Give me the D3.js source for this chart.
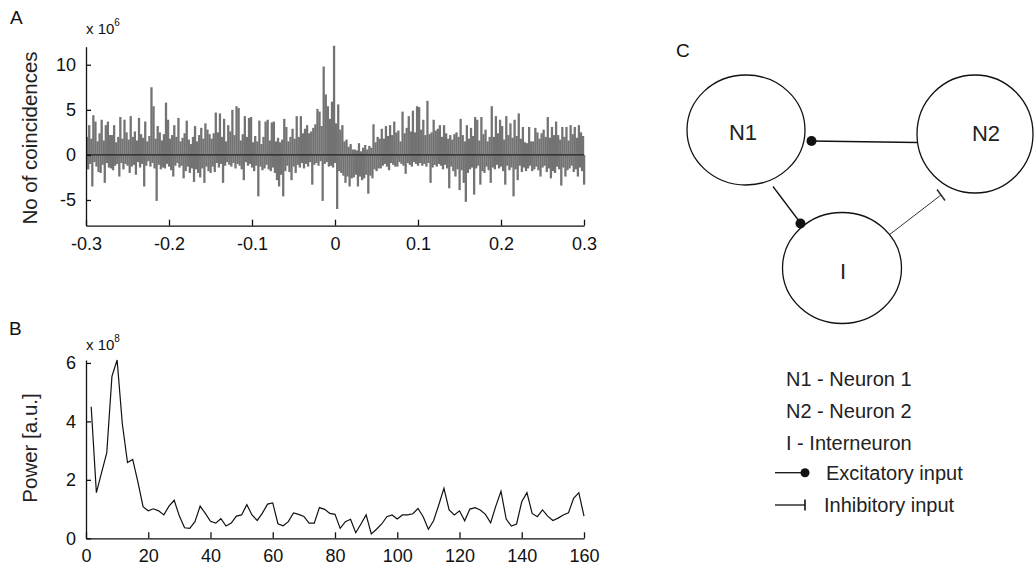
<!DOCTYPE html>
<html>
  <head>
    <meta charset="utf-8">
    <script src="https://d3js.org/d3.v7.min.js"></script>
    <style type="text/css">
    body { margin: 0; background: #fff; }
    svg text { font-family: "Liberation Sans", Arial, sans-serif; fill: #111; }
    .axis path, .axis line { stroke: #111; stroke-width: 1.3; }
    .axis text { font-size: 18px; fill: #111; }
    </style>
  </head>
  <body>
    <div id="chart"></div>
    <script>
    // panel A: cross-correlogram, 1.25 ms bins from -0.3 to 0.3 s (x 10^6)
    var binWidth = 0.00125;
    var coincidences = [
      2.0,-1.6, 3.3,-1.0, 1.8,-3.5, 4.4,-0.8, 3.7,-1.3, 1.5,-1.9, 2.4,-2.0, 3.9,-1.1, 1.6,-3.1, 3.3,-0.9,
      3.7,-1.4, 2.2,-1.5, 2.2,-1.7, 3.3,-1.2, 1.4,-1.0, 2.0,-2.4, 4.2,-0.9, 1.8,-1.6, 3.9,-1.0, 2.5,-1.2,
      1.7,-2.0, 4.3,-1.3, 2.0,-1.1, 2.6,-2.2, 1.6,-0.8, 4.1,-1.4, 2.3,-1.0, 1.9,-3.5, 3.7,-1.2, 1.5,-0.7,
      2.1,-1.3, 7.5,-0.9, 5.4,-1.5, 1.8,-5.1, 3.2,-1.1, 2.5,-1.6, 1.6,-1.4, 2.3,-1.5, 5.8,-1.0, 3.9,-1.3,
      1.8,-1.7, 2.2,-2.4, 3.3,-1.2, 2.0,-0.9, 4.1,-1.4, 1.5,-1.2, 1.9,-2.6, 2.4,-1.8, 3.8,-1.3, 1.7,-2.0,
      1.2,-1.5, 2.0,-3.0, 3.2,-1.6, 1.5,-2.0, 2.2,-2.5, 3.0,-1.5, 1.8,-3.1, 3.5,-1.3, 2.8,-1.8, 2.3,-2.0,
      1.8,-1.3, 2.4,-1.9, 4.7,-0.9, 2.5,-1.4, 4.6,-1.0, 2.0,-3.1, 4.0,-1.2, 1.5,-0.8, 3.3,-1.1, 2.6,-1.3,
      5.0,-0.9, 2.2,-1.5, 5.4,-1.0, 5.2,-1.2, 1.6,-1.6, 2.3,-2.8, 4.3,-0.8, 2.0,-1.2, 4.1,-1.0, 4.2,-1.4,
      1.4,-1.8, 2.1,-1.2, 1.5,-4.6, 3.8,-1.3, 1.2,-1.7, 2.0,-1.5, 3.7,-1.1, 3.9,-1.6, 1.6,-1.8, 3.6,-1.4,
      3.7,-2.0, 1.5,-2.8, 1.9,-3.5, 1.4,-2.2, 1.7,-4.6, 4.0,-1.8, 3.1,-1.2, 1.5,-1.9, 2.0,-2.8, 2.9,-1.3,
      1.8,-2.0, 4.3,-1.1, 2.0,-1.4, 4.3,-0.9, 2.4,-1.5, 2.9,-1.0, 3.3,-1.3, 2.4,-0.8, 2.6,-3.3, 3.0,-1.1,
      3.4,-0.9, 5.1,-1.2, 4.8,-0.7, 3.2,-5.1, 9.8,-1.0, 6.7,-0.8, 5.4,-1.3, 4.0,-1.2, 5.9,-1.4, 12.1,-0.9,
      3.5,-6.0, 5.6,-1.8, 2.8,-2.0, 3.3,-2.3, 1.5,-3.1, 1.7,-2.4, 0.9,-3.5, 1.2,-2.6, 0.6,-2.5, 0.6,-2.2,
      0.5,-3.5, 1.3,-2.4, 0.4,-2.8, 0.8,-2.6, 1.1,-2.2, 0.6,-4.3, 1.0,-2.3, 0.8,-2.6, 3.4,-1.6, 1.4,-1.8,
      2.0,-1.5, 1.8,-1.5, 2.9,-1.2, 1.8,-1.0, 3.2,-1.3, 2.1,-1.7, 3.3,-0.9, 2.2,-1.1, 3.7,-1.3, 2.5,-1.3,
      2.7,-0.8, 1.5,-1.0, 4.8,-1.2, 2.4,-2.1, 3.0,-0.9, 4.3,-1.1, 2.6,-1.3, 4.9,-0.8, 2.5,-1.0, 5.4,-1.2,
      5.3,-0.9, 2.8,-1.2, 3.9,-1.0, 2.2,-1.3, 6.0,-0.9, 2.3,-3.1, 2.5,-1.4, 3.9,-1.1, 2.7,-1.3, 2.9,-1.0,
      3.3,-1.2, 2.0,-1.6, 3.3,-1.1, 2.4,-1.5, 1.8,-3.7, 2.2,-1.3, 1.7,-1.8, 2.3,-2.4, 2.5,-1.6, 2.0,-3.9,
      4.0,-1.7, 2.2,-3.1, 1.5,-5.2, 3.3,-2.0, 1.8,-1.6, 3.0,-1.4, 2.1,-4.4, 4.2,-1.5, 3.9,-1.2, 1.6,-3.3,
      4.2,-1.8, 2.3,-2.0, 2.8,-1.3, 1.5,-1.7, 2.0,-3.1, 5.4,-1.4, 2.0,-1.6, 4.3,-1.1, 2.4,-1.5, 3.9,-1.3,
      3.2,-1.8, 1.7,-3.3, 4.3,-1.2, 2.2,-1.7, 3.5,-1.4, 1.9,-4.6, 3.9,-1.6, 2.1,-2.8, 4.6,-1.2, 1.8,-1.9,
      3.1,-1.4, 1.4,-1.8, 1.3,-1.5, 3.1,-1.2, 1.5,-1.8, 1.5,-1.6, 3.0,-1.3, 2.5,-1.7, 1.8,-2.4, 2.4,-1.4,
      2.8,-1.2, 2.0,-1.9, 4.2,-1.5, 1.9,-2.6, 3.1,-1.8, 2.2,-2.0, 3.7,-1.3, 2.2,-1.6, 1.7,-3.4, 3.1,-1.4,
      2.0,-2.4, 3.1,-1.7, 1.6,-1.5, 3.3,-1.2, 2.3,-1.9, 3.1,-1.6, 1.9,-2.4, 3.3,-1.4, 2.5,-1.8, 2.1,-3.3
    ];
    var ticksA_x = [-0.3, -0.2, -0.1, 0, 0.1, 0.2, 0.3];
    var ticksA_y = [-5, 0, 5, 10];

    // panel B: power spectrum, 5/3 Hz steps (x 10^8)
    var freqStep = 5 / 3;
    var power = [
      4.5, 1.56, 2.25, 2.92, 5.54, 6.1, 3.92, 2.59, 2.7, 1.93,
      1.08, 0.94, 1.01, 0.94, 0.8, 1.1, 1.3, 0.76, 0.36, 0.34,
      0.57, 1.1, 0.85, 0.58, 0.52, 0.67, 0.42, 0.52, 0.76, 0.8,
      1.15, 0.8, 0.61, 0.86, 1.17, 1.21, 0.5, 0.43, 0.57, 0.87,
      0.82, 0.75, 0.52, 0.52, 1.05, 0.99, 0.85, 0.82, 0.34, 0.57,
      0.65, 0.19, 0.49, 0.8, 0.15, 0.31, 0.49, 0.74, 0.8, 0.66,
      0.8, 0.8, 0.84, 1.02, 0.74, 0.31, 0.6, 1.14, 1.71, 0.97,
      0.8, 0.94, 0.6, 1.0, 1.05, 0.97, 0.82, 0.53, 1.1, 1.61,
      0.66, 0.42, 0.49, 1.25, 1.56, 0.85, 0.74, 0.97, 0.76, 0.61,
      0.69, 0.8, 0.87, 1.37, 1.56, 0.76
    ];
    var ticksB_x = [0, 20, 40, 60, 80, 100, 120, 140, 160];
    var ticksB_y = [0, 2, 4, 6];

    // panel C: circuit
    var nodeNames = ["N1", "N2", "I"];
    var legendNames = ["N1 - Neuron 1", "N2 - Neuron 2", "I - Interneuron"];
    var legendInputs = ["Excitatory input", "Inhibitory input"];

    var width = 1034, height = 566;
    var svg = d3.select("#chart").append("svg")
        .attr("width", width)
        .attr("height", height);

    // plain hyphen for negatives, like the original figure
    function plain(fmt) {
      return function(d){ return d === 0 ? "0" : fmt(d).replace("\u2212", "-"); };
    }

    // ---------- A ----------
    var xA = d3.scaleLinear().domain([-0.3, 0.3]).range([86, 584]);
    var yA = d3.scaleLinear().domain([-7.85, 12]).range([225.7, 46.7]);
    var barPx = xA(binWidth) - xA(0);

    var gA = svg.append("g");
    gA.selectAll("rect.bar")
      .data(coincidences)
      .enter()
      .append("rect")
      .attr("class", "bar")
      .attr("x", function(d, i){ return xA(-0.3 + i * binWidth); })
      .attr("width", barPx * 2.2)
      .attr("y", function(d){ return Math.min(yA(d), yA(0)); })
      .attr("height", function(d){ return Math.abs(yA(d) - yA(0)); })
      .attr("fill", "#737373");

    gA.append("line")
      .attr("x1", xA(-0.3)).attr("x2", xA(0.3))
      .attr("y1", yA(0)).attr("y2", yA(0))
      .attr("stroke", "#222").attr("stroke-width", 1.2);

    gA.append("g").attr("class", "axis")
      .attr("transform", "translate(0," + yA.range()[0] + ")")
      .call(d3.axisBottom(xA).tickValues(ticksA_x).tickSizeInner(-6).tickSizeOuter(0).tickPadding(12)
        .tickFormat(plain(d3.format(".1f"))));
    gA.append("g").attr("class", "axis")
      .attr("transform", "translate(" + xA.range()[0] + ",0)")
      .call(d3.axisLeft(yA).tickValues(ticksA_y).tickSizeInner(-5).tickSizeOuter(0).tickPadding(10)
        .tickFormat(plain(d3.format("d"))));

    // ---------- B ----------
    var xB = d3.scaleLinear().domain([0, 160]).range([86, 584]);
    var yB = d3.scaleLinear().domain([0, 6.1]).range([538.3, 360]);

    var gB = svg.append("g");
    gB.append("path")
      .datum(power)
      .attr("fill", "none")
      .attr("stroke", "#111")
      .attr("stroke-width", 1.2)
      .attr("d", d3.line()
        .x(function(d, i){ return xB((i + 1) * freqStep); })
        .y(function(d){ return yB(d); }));

    gB.append("g").attr("class", "axis")
      .attr("transform", "translate(0," + yB.range()[0] + ")")
      .call(d3.axisBottom(xB).tickValues(ticksB_x).tickSizeInner(-6).tickSizeOuter(0).tickPadding(11)
        .tickFormat(d3.format("d")));
    gB.append("g").attr("class", "axis")
      .attr("transform", "translate(" + xB.range()[0] + ",0)")
      .call(d3.axisLeft(yB).tickValues(ticksB_y).tickSizeInner(-5).tickSizeOuter(0).tickPadding(10)
        .tickFormat(d3.format("d")));

    // panel letters, exponents, y labels
    function exponent(g, x, y, p) {
      var t = g.append("text").attr("x", x).attr("y", y).style("font-size", "15px").text("x 10");
      t.append("tspan").attr("dy", -8).style("font-size", "10px").text(p);
    }
    svg.append("text").attr("x", 10).attr("y", 24).style("font-size", "19px").text("A");
    svg.append("text").attr("x", 9).attr("y", 335).style("font-size", "19px").text("B");
    exponent(svg, 86, 34, "6");
    exponent(svg, 86, 350, "8");
    svg.append("text")
      .attr("transform", "translate(37,138) rotate(-90)")
      .attr("text-anchor", "middle")
      .style("font-size", "20.5px").style("fill", "#222")
      .text("No of coincidences");
    svg.append("text")
      .attr("transform", "translate(37,448) rotate(-90)")
      .attr("text-anchor", "middle")
      .style("font-size", "20.5px").style("fill", "#222")
      .text("Power [a.u.]");

    // ---------- C ----------
    var gC = svg.append("g");
    gC.append("text").attr("x", 676).attr("y", 57).style("font-size", "19px").text("C");

    var nodes = [
      {name: nodeNames[0], cx: 746, cy: 130, rx: 59, ry: 55, tx: 743, ty: 140},
      {name: nodeNames[1], cx: 975, cy: 134, rx: 58, ry: 59, tx: 986, ty: 141},
      {name: nodeNames[2], cx: 842, cy: 268, rx: 59.5, ry: 55.5, tx: 843, ty: 279}
    ];

    // connections
    gC.append("line").attr("x1", 917).attr("y1", 142.5).attr("x2", 811).attr("y2", 141)
      .attr("stroke", "#111").attr("stroke-width", 1.3);
    gC.append("circle").attr("cx", 811.5).attr("cy", 141).attr("r", 5).attr("fill", "#111");
    gC.append("line").attr("x1", 773).attr("y1", 186.5).attr("x2", 800.5).attr("y2", 223)
      .attr("stroke", "#111").attr("stroke-width", 1.3);
    gC.append("circle").attr("cx", 800.5).attr("cy", 223.5).attr("r", 5).attr("fill", "#111");
    gC.append("line").attr("x1", 889).attr("y1", 235).attr("x2", 941).attr("y2", 195)
      .attr("stroke", "#333").attr("stroke-width", 1);
    gC.append("line").attr("x1", 937).attr("y1", 189.5).attr("x2", 945).attr("y2", 200.5)
      .attr("stroke", "#333").attr("stroke-width", 1.6);

    gC.selectAll("ellipse")
      .data(nodes)
      .enter()
      .append("ellipse")
      .attr("cx", function(d){ return d.cx; })
      .attr("cy", function(d){ return d.cy; })
      .attr("rx", function(d){ return d.rx; })
      .attr("ry", function(d){ return d.ry; })
      .attr("fill", "none")
      .attr("stroke", "#111")
      .attr("stroke-width", 1.3);
    gC.selectAll("text.node")
      .data(nodes)
      .enter()
      .append("text")
      .attr("class", "node")
      .attr("x", function(d){ return d.tx; })
      .attr("y", function(d){ return d.ty; })
      .attr("text-anchor", "middle")
      .style("font-size", "22px").style("fill", "#222")
      .text(function(d){ return d.name; });

    // legend
    gC.selectAll("text.leg")
      .data(legendNames)
      .enter()
      .append("text")
      .attr("class", "leg")
      .attr("x", 786)
      .attr("y", function(d, i){ return 386 + i * 32.2; })
      .style("font-size", "20px").style("fill", "#222")
      .text(function(d){ return d; });
    gC.selectAll("text.inp")
      .data(legendInputs)
      .enter()
      .append("text")
      .attr("class", "inp")
      .attr("x", function(d, i){ return i === 0 ? 826 : 824; })
      .attr("y", function(d, i){ return 480 + i * 31.7; })
      .style("font-size", "20px").style("fill", "#222")
      .text(function(d){ return d; });

    gC.append("line").attr("x1", 775).attr("x2", 804).attr("y1", 472.7).attr("y2", 472.7)
      .attr("stroke", "#111").attr("stroke-width", 1.3);
    gC.append("circle").attr("cx", 805).attr("cy", 472.7).attr("r", 4.5).attr("fill", "#111");
    gC.append("line").attr("x1", 775).attr("x2", 805).attr("y1", 505).attr("y2", 505)
      .attr("stroke", "#111").attr("stroke-width", 1.3);
    gC.append("line").attr("x1", 805).attr("x2", 805).attr("y1", 499.5).attr("y2", 510.5)
      .attr("stroke", "#111").attr("stroke-width", 1.6);
    </script>
  </body>
</html>
